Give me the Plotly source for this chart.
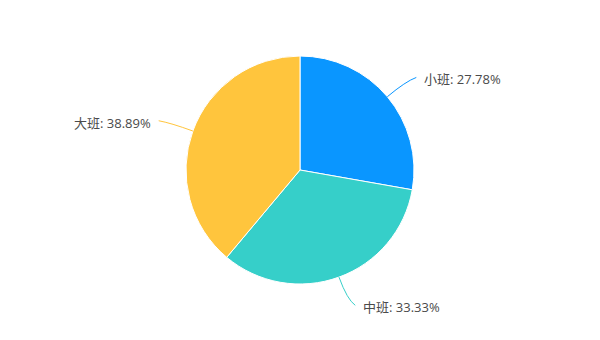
import math
import plotly.graph_objects as go

categories = ["小班", "中班", "大班"]
values = [5, 6, 7]
colors = ["#0a96ff", "#36cfc9", "#ffc53d"]

W, H = 600, 340
CX, CY, R = 300, 170, 114

fig = go.Figure(go.Pie(
    labels=categories,
    values=values,
    sort=False,
    direction="clockwise",
    rotation=0,
    marker=dict(colors=colors, line=dict(color="white", width=1)),
    textinfo="none",
    hoverinfo="skip",
    showlegend=False,
    domain=dict(x=[0, 1], y=[(H - CY - R) / H, (H - CY + R) / H]),
))

def px(x, y):
    return x / W, 1 - y / H

total = sum(values)
shapes, annotations = [], []
acc = 0
for cat, v, col in zip(categories, values, colors):
    mid = (acc + v / 2) / total * 2 * math.pi
    acc += v
    sx, sy = math.sin(mid), -math.cos(mid)
    side = 1 if sx >= 0 else -1
    p0 = (CX + R * sx, CY + R * sy)
    pc = (CX + (R + 24) * sx, CY + (R + 24) * sy)
    p1 = (CX + (R + 30) * sx + side * 6, CY + (R + 30) * sy)
    a, b, c = px(*p0), px(*pc), px(*p1)
    shapes.append(dict(
        type="path", xref="paper", yref="paper",
        path=f"M {a[0]},{a[1]} Q {b[0]},{b[1]} {c[0]},{c[1]}",
        line=dict(color=col, width=1),
    ))
    pct = v / total * 100
    annotations.append(dict(
        x=c[0], y=c[1], xref="paper", yref="paper",
        text=f"{cat}: {pct:.2f}%", showarrow=False,
        xanchor="left" if side > 0 else "right", yanchor="middle",
        xshift=6 * side, yshift=-2,
        font=dict(family="Open Sans, Noto Sans CJK SC", size=13, color="#4a4a4a"),
    ))

fig.update_layout(
    width=W, height=H,
    margin=dict(l=0, r=0, t=0, b=0),
    paper_bgcolor="white",
    plot_bgcolor="white",
    shapes=shapes,
    annotations=annotations,
)

fig.write_html("out.html")
